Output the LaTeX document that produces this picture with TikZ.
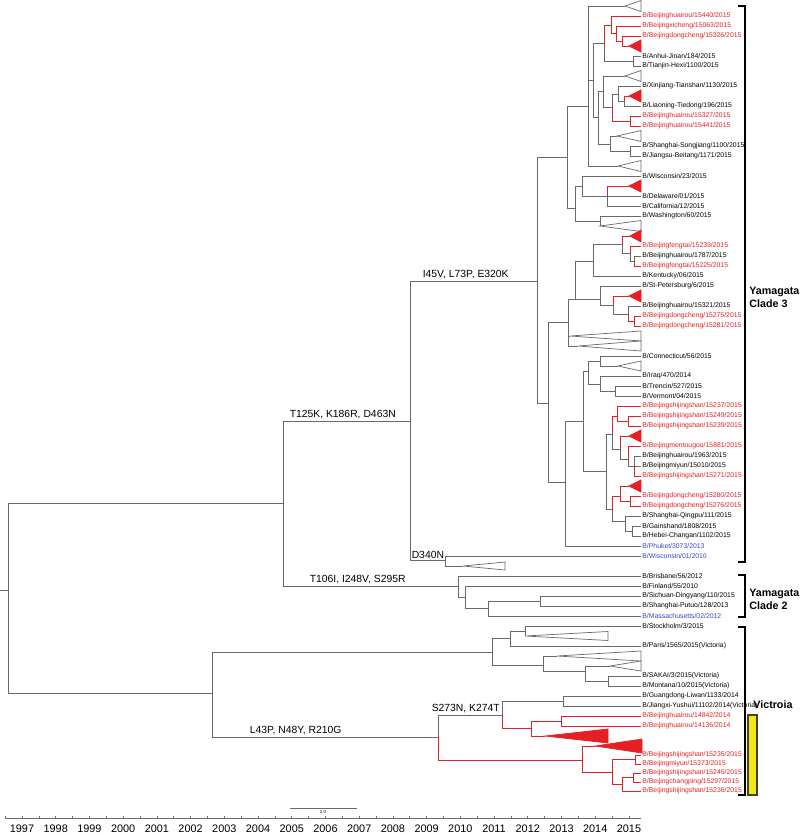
\documentclass[tikz,border=0pt]{standalone}
\usepackage{fontspec}
\setmainfont{Liberation Sans}
\usetikzlibrary{calc}
\definecolor{brc}{RGB}{105,105,105}
\definecolor{redc}{RGB}{228,32,36}
\definecolor{bluc}{RGB}{52,72,196}
\definecolor{barc}{RGB}{242,232,20}
\definecolor{barl}{RGB}{70,66,20}
\tikzset{
  br/.style={draw=brc, line width=0.4pt},
  rbr/.style={draw=redc, line width=0.4pt},
  lf/.style={anchor=west, inner sep=0.6pt, font=\fontsize{3.9}{4}\selectfont, text=black},
  rlf/.style={lf, text=redc},
  blf/.style={lf, text=bluc},
  otri/.style={draw=brc, line width=0.4pt, fill=white},
  rtri/.style={draw=redc, fill=redc, line width=0.4pt},
  mut/.style={anchor=south west, inner sep=0.8pt, font=\fontsize{5.9}{6}\selectfont},
  clab/.style={anchor=west, align=left, inner sep=0pt, font=\fontsize{6.1}{7.4}\selectfont\bfseries},
  brk/.style={draw=black, line width=0.6pt},
  yr/.style={font=\fontsize{6.2}{7}\selectfont, inner sep=0pt},
}
% collapsed clade: [style]{name}{apex x}{y}{half height}{right x}
\newcommand{\clp}[6][otri]{\coordinate (#2) at (#3,#4);
  \draw[#1] (#2) -- (#6,{#4-#5}) -- (#6,{#4+#5}) -- cycle;}
% elbow branches from one parent to its children
\newcommand{\edg}[3][br]{\foreach \c in {#3}{\draw[#1] (#2) |- (\c);}}

\begin{document}
\begin{tikzpicture}[x=0.02cm, y=-0.02cm]
  \useasboundingbox (0,0) rectangle (800,835);
  \fill[white] (0,0) rectangle (800,835);

  % leaves, Yamagata clade 3
  \node[rlf] (l1) at (641,16) {B/Beijinghuairou/15440/2015};
  \node[rlf] (l2) at (641,26) {B/Beijingxicheng/15063/2015};
  \node[rlf] (l3) at (641,36) {B/Beijingdongcheng/15326/2015};
  \node[lf] (l5) at (641,56) {B/Anhui-Jinan/184/2015};
  \node[lf] (l6) at (641,66) {B/Tianjin-Hexi/1100/2015};
  \node[lf] (l8) at (641,86) {B/Xinjiang-Tianshan/1130/2015};
  \node[lf] (l10) at (641,106) {B/Liaoning-Tiedong/196/2015};
  \node[rlf] (l11) at (641,116) {B/Beijinghuairou/15327/2015};
  \node[rlf] (l12) at (641,126) {B/Beijinghuairou/15441/2015};
  \node[lf] (l14) at (641,146) {B/Shanghai-Songjiang/1100/2015};
  \node[lf] (l15) at (641,156) {B/Jiangsu-Beitang/1171/2015};
  \node[lf] (l17) at (641,176) {B/Wisconsin/23/2015};
  \node[lf] (l19) at (641,196) {B/Delaware/01/2015};
  \node[lf] (l20) at (641,206) {B/California/12/2015};
  \node[lf] (l21) at (641,216) {B/Washington/60/2015};
  \node[rlf] (l24) at (641,246) {B/Beijingfengtai/15239/2015};
  \node[lf] (l25) at (641,256) {B/Beijinghuairou/1787/2015};
  \node[rlf] (l26) at (641,266) {B/Beijingfengtai/15225/2015};
  \node[lf] (l27) at (641,276) {B/Kentucky/06/2015};
  \node[lf] (l28) at (641,286) {B/St-Petersburg/6/2015};
  \node[lf] (l30) at (641,306) {B/Beijinghuairou/15321/2015};
  \node[rlf] (l31) at (641,316) {B/Beijingdongcheng/15275/2015};
  \node[rlf] (l32) at (641,326) {B/Beijingdongcheng/15281/2015};
  \node[lf] (l35) at (641,356) {B/Connecticut/56/2015};
  \node[lf] (l37) at (641,376) {B/Iraq/470/2014};
  \node[lf] (l38) at (641,386) {B/Trencin/527/2015};
  \node[lf] (l39) at (641,396) {B/Vermont/04/2015};
  \node[rlf] (l40) at (641,406) {B/Beijingshijingshan/15237/2015};
  \node[rlf] (l41) at (641,416) {B/Beijingshijingshan/15249/2015};
  \node[rlf] (l42) at (641,426) {B/Beijingshijingshan/15239/2015};
  \node[rlf] (l44) at (641,446) {B/Beijingmentougou/15881/2015};
  \node[lf] (l45) at (641,456) {B/Beijinghuairou/1963/2015};
  \node[lf] (l46) at (641,466) {B/Beijingmiyun/15010/2015};
  \node[rlf] (l47) at (641,476) {B/Beijingshijingshan/15271/2015};
  \node[rlf] (l49) at (641,496) {B/Beijingdongcheng/15280/2015};
  \node[rlf] (l50) at (641,506) {B/Beijingdongcheng/15276/2015};
  \node[lf] (l51) at (641,516) {B/Shanghai-Qingpu/111/2015};
  \node[lf] (l52) at (641,526) {B/Gainshand/1808/2015};
  \node[lf] (l53) at (641,536) {B/Hebei-Changan/1102/2015};
  \node[blf] (l54) at (641,546) {B/Phuket/3073/2013};
  \node[blf] (l55) at (641,556) {B/Wisconsin/01/2010};
  % leaves, Yamagata clade 2
  \node[lf] (l57) at (641,576) {B/Brisbane/56/2012};
  \node[lf] (l58) at (641,586) {B/Finland/55/2010};
  \node[lf] (l59) at (641,596) {B/Sichuan-Dingyang/110/2015};
  \node[lf] (l60) at (641,606) {B/Shanghai-Putuo/128/2013};
  \node[blf] (l61) at (641,616) {B/Massachusetts/02/2012};
  % leaves, Victoria
  \node[lf] (l62) at (641,626) {B/Stockholm/3/2015};
  \node[lf] (l64) at (641,646) {B/Paris/1565/2015(Victoria)};
  \node[lf] (l67) at (641,676) {B/SAKAI/3/2015(Victoria)};
  \node[lf] (l68) at (641,686) {B/Montana/10/2015(Victoria)};
  \node[lf] (l69) at (641,696) {B/Guangdong-Liwan/1133/2014};
  \node[lf] (l70) at (641,706) {B/Jiangxi-Yushui/11102/2014(Victoria)};
  \node[rlf] (l71) at (641,716) {B/Beijinghuairou/14842/2014};
  \node[rlf] (l72) at (641,726) {B/Beijinghuairou/14136/2014};
  \node[rlf] (l75) at (641,755) {B/Beijingshijingshan/15235/2015};
  \node[rlf] (l76) at (641,764) {B/Beijingmiyun/15373/2015};
  \node[rlf] (l77) at (641,773) {B/Beijingshijingshan/15245/2015};
  \node[rlf] (l78) at (641,782) {B/Beijingchangping/15297/2015};
  \node[rlf] (l79) at (641,791) {B/Beijingshijingshan/15236/2015};

  % collapsed clades
  \clp{t0}{625}{6}{5.5}{641}
  \clp[rtri]{t4}{629}{46}{6}{641}
  \clp{t7}{625}{76}{5.5}{641}
  \clp[rtri]{t9}{629}{96}{6}{641}
  \clp{t13}{617}{136}{5.5}{641}
  \clp{t16}{618}{166}{5.5}{641}
  \clp[rtri]{t18}{629}{186}{6}{641}
  \clp{t22}{600}{226}{5.5}{641}
  \clp[rtri]{t23}{630}{236}{6}{641}
  \clp[rtri]{t29}{629}{296}{6}{641}
  \clp{t33}{570}{336}{5}{641}
  \clp{t34}{578}{346}{5}{641}
  \clp{t36}{618}{366}{5}{641}
  \clp[rtri]{t43}{629}{436}{6}{641}
  \clp[rtri]{t48}{629}{486}{6}{641}
  \clp{t56}{463}{566}{4}{505}
  \clp{t63}{525}{636}{4.5}{608}
  \clp{t65}{557}{656}{5}{641}
  \clp{t66}{610}{666}{5}{641}
  \clp[rtri]{t73}{545}{736}{7}{608}
  \clp[rtri]{t74}{595}{746}{7}{642}

  % internal nodes
  \coordinate (a3) at (622,41);   \coordinate (a2) at (616,33);
  \coordinate (a1) at (611,25);   \coordinate (b1) at (633,61);
  \coordinate (ab) at (604,43);   \coordinate (c4) at (624,101);
  \coordinate (c3) at (618,94);   \coordinate (c5) at (630,121);
  \coordinate (c2) at (612,107);  \coordinate (c1) at (603,91);
  \coordinate (d2) at (630,151);  \coordinate (d1) at (610,144);
  \coordinate (ue) at (598,117);  \coordinate (ud) at (593,80);
  \coordinate (u1) at (588,106);  \coordinate (u2b) at (607,196);
  \coordinate (u2a) at (582,186); \coordinate (u2c) at (600,221);
  \coordinate (u2) at (575,208);  \coordinate (uu) at (567,157);
  \coordinate (lb3) at (634,261); \coordinate (lb2) at (630,253);
  \coordinate (lb1) at (622,244); \coordinate (lb) at (593,261);
  \coordinate (lf3) at (634,321); \coordinate (le) at (628,314);
  \coordinate (ld) at (613,305);  \coordinate (lc) at (600,299);
  \coordinate (la) at (575,299);  \coordinate (l1n) at (568,322);
  \coordinate (m1a) at (600,361); \coordinate (m1c) at (615,391);
  \coordinate (m1b) at (600,384); \coordinate (m1) at (588,371);
  \coordinate (n1b) at (628,421); \coordinate (n1) at (617,416);
  \coordinate (n2c) at (634,466); \coordinate (n2b) at (628,459);
  \coordinate (n2) at (620,449);  \coordinate (m2a) at (612,434);
  \coordinate (n3b) at (630,501); \coordinate (n3) at (620,496);
  \coordinate (n4b) at (632,531); \coordinate (n4) at (625,521);
  \coordinate (m2b) at (612,509); \coordinate (m2) at (606,471);
  \coordinate (mm) at (583,421);  \coordinate (l2n) at (565,482);
  \coordinate (lL) at (548,403);  \coordinate (c3n) at (537,281);
  \coordinate (yd) at (445,560);  \coordinate (y3) at (410,421);
  \coordinate (k3) at (540,601);  \coordinate (k2) at (488,608);
  \coordinate (k1) at (465,597);  \coordinate (y2) at (458,586);
  \coordinate (yam) at (283,503);
  \coordinate (vs) at (525,631);  \coordinate (vp) at (510,638);
  \coordinate (vm2) at (608,681); \coordinate (vm) at (585,671);
  \coordinate (vq) at (543,665);  \coordinate (vup) at (492,652);
  \coordinate (vg) at (563,701);  \coordinate (vr2) at (561,721);
  \coordinate (vr) at (531,728);  \coordinate (vsk) at (502,715);
  \coordinate (vb3) at (635,759.5); \coordinate (vb4) at (633,777.5);
  \coordinate (vb5) at (622,784); \coordinate (vb2) at (612,772);
  \coordinate (vb) at (582,760);  \coordinate (vlow) at (438,737);
  \coordinate (vic) at (212,693); \coordinate (root) at (8,590);
  \coordinate (r0) at (0,590);

  % Yamagata clade 3, upper half
  \edg[rbr]{a3}{l3,t4}
  \edg[rbr]{a2}{l2,a3}
  \edg[rbr]{a1}{l1,a2}
  \edg{b1}{l5,l6}
  \edg[rbr]{ab}{a1} \edg{ab}{b1}
  \edg[rbr]{c4}{t9} \edg{c4}{l10}
  \edg{c3}{l8,c4}
  \edg[rbr]{c5}{l11,l12}
  \edg{c2}{c3} \edg[rbr]{c2}{c5}
  \edg{c1}{t7,c2}
  \edg{d2}{l14,l15}
  \edg{d1}{t13,d2}
  \edg{ue}{c1,d1}
  \edg{ud}{ab,ue}
  \edg{u1}{t0,ud,t16}
  \edg[rbr]{u2b}{t18} \edg{u2b}{l19,l20}
  \edg{u2a}{l17,u2b}
  \edg{u2c}{l21,t22}
  \edg{u2}{u2a,u2c}
  \edg{uu}{u1,u2}
  % Yamagata clade 3, lower half
  \edg[rbr]{lb3}{l26} \edg{lb3}{l25}
  \edg[rbr]{lb2}{l24} \edg{lb2}{lb3}
  \edg[rbr]{lb1}{t23} \edg{lb1}{lb2}
  \edg{lb}{lb1,l27}
  \edg[rbr]{lf3}{l31,l32}
  \edg{le}{l30} \edg[rbr]{le}{lf3}
  \edg[rbr]{ld}{t29} \edg{ld}{le}
  \edg{lc}{l28,ld}
  \edg{la}{lb,lc}
  \edg{l1n}{la,t33,t34}
  \edg{m1a}{l35,t36}
  \edg{m1c}{l38,l39}
  \edg{m1b}{l37,m1c}
  \edg{m1}{m1a,m1b}
  \edg[rbr]{n1b}{l41,l42}
  \edg[rbr]{n1}{l40,n1b}
  \edg{n2c}{l45,l46} \edg[rbr]{n2c}{l47}
  \edg[rbr]{n2b}{l44} \edg{n2b}{n2c}
  \edg[rbr]{n2}{t43} \edg{n2}{n2b}
  \edg[rbr]{m2a}{n1} \edg{m2a}{n2}
  \edg[rbr]{n3b}{l49,l50}
  \edg[rbr]{n3}{t48,n3b}
  \edg{n4b}{l52,l53}
  \edg{n4}{l51,n4b}
  \edg[rbr]{m2b}{n3} \edg{m2b}{n4}
  \edg{m2}{m2a,m2b}
  \edg{mm}{m1,m2}
  \edg{l2n}{mm,l54}
  \edg{lL}{l1n,l2n}
  \edg{c3n}{uu,lL}
  \edg{yd}{l55,t56}
  % Yamagata clade 2
  \edg{k3}{l59,l60}
  \edg{k2}{k3,l61}
  \edg{k1}{l58,k2}
  \edg{y2}{l57,k1}
  % Victoria
  \edg{vs}{l62,t63}
  \edg{vp}{vs,l64}
  \edg{vm2}{l67,l68}
  \edg{vm}{t66,vm2}
  \edg{vq}{t65,vm}
  \edg{vup}{vp,vq}
  \edg{vg}{l69,l70}
  \edg[rbr]{vr2}{l71,l72}
  \edg[rbr]{vr}{vr2,t73}
  \edg{vsk}{vg} \edg[rbr]{vsk}{vr}
  \edg[rbr]{vb3}{l75,l76}
  \edg[rbr]{vb4}{l77,l78}
  \edg[rbr]{vb5}{vb4,l79}
  \edg[rbr]{vb2}{vb3,vb5}
  \edg[rbr]{vb}{t74,vb2}

  % backbone with the mutations
  \draw[br] (y3) |- node[mut, pos=0.5, xshift=0.22cm]{I45V, L73P, E320K} (c3n);
  \draw[br] (y3) |- node[mut, pos=0.5]{D340N} (yd);
  \draw[br] (yam) |- node[mut, pos=0.5, xshift=0.1cm]{T125K, K186R, D463N} (y3);
  \draw[br] (yam) |- node[mut, pos=0.5, xshift=0.5cm]{T106I, I248V, S295R} (y2);
  \draw[br] (vic) |- (vup);
  \draw[br] (vic) |- node[mut, pos=0.5, xshift=0.72cm]{L43P, N48Y, R210G} (vlow);
  \draw[br] (vlow) |- node[mut, pos=0.5, xshift=-0.16cm]{S273N, K274T} (vsk);
  \draw[rbr] (vlow) |- (vb);
  \draw[br] (root) |- (yam);
  \draw[br] (root) |- (vic);
  \draw[br] (r0) -- (root);

  % clade brackets
  \draw[brk] (738,6) -| (745,562) -- (738,562);
  \draw[brk] (738,575) -| (745,617) -- (738,617);
  \draw[brk] (738,627) -| (745,795) -- (738,795);
  \draw[draw=barl, fill=barc, line width=0.7pt] (748,715) rectangle (757,795);
  \node[clab] (c3lab) at (749,297) {Yamagata\\Clade 3};
  \node[clab] (c2lab) at (749,599) {Yamagata\\Clade 2};
  \node[clab] (viclab) at (753,705) {Victroia};

  % time axis and scale bar
  \draw[br] (290,808) -- (357,808);
  \node[font=\fontsize{2.5}{3}\selectfont, inner sep=0pt] (sbar) at (323,812) {2.0};
  \draw[br] (5,818) -- (641,818);
  \foreach \t in {0,...,37}
    \draw[br] ({5.14+16.86*\t},818) -- ++(0,-2);
  \foreach \yr [count=\i from 0] in {1997,...,2015}
    \node[yr] at ({22+33.72*\i},829) {\yr};
\end{tikzpicture}
\end{document}
